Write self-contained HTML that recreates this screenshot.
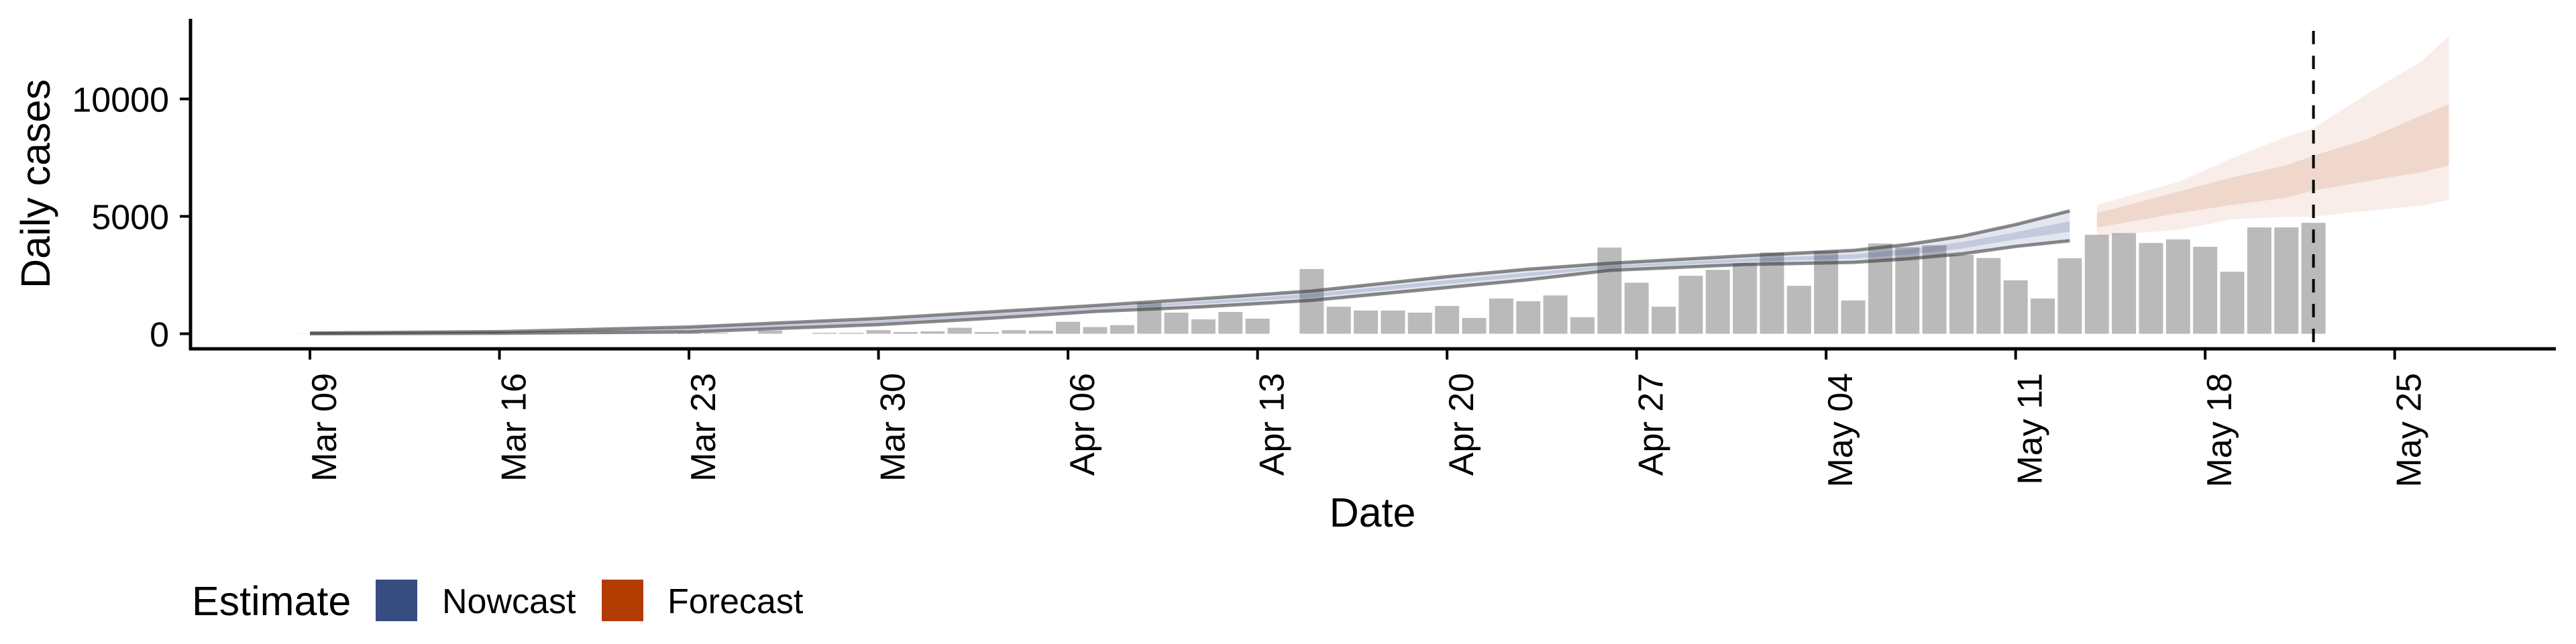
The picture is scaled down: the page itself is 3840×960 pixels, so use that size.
<!DOCTYPE html>
<html><head><meta charset="utf-8"><style>
html,body{margin:0;padding:0;background:#fff;}
svg{display:block;font-family:"Liberation Sans",sans-serif;}
</style></head><body>
<svg id="chart" width="3840" height="960" viewBox="0 0 3840 960" xmlns="http://www.w3.org/2000/svg">
<rect x="0" y="0" width="3840" height="960" fill="#fff"/>
<g id="bars"></g>
<g id="nowcast"></g>
<g id="forecast"></g>
<g id="axes"></g>
<text x="0" y="0" transform="translate(74,274) rotate(-90)" text-anchor="middle" font-size="61">Daily cases</text>
<text x="2046" y="785" text-anchor="middle" font-size="61">Date</text>
<g>
<text x="286" y="917" font-size="61">Estimate</text>
<rect x="560" y="864" width="62" height="62" fill="#374c80"/>
<text x="659" y="914" font-size="52">Nowcast</text>
<rect x="897" y="864" width="62" height="62" fill="#b33c02"/>
<text x="995" y="914" font-size="52">Forecast</text>
</g>
</svg>
<script>
// ---- data ----
const barDays = [0,1,2,3,4,5,6,7,8,9,10,11,12,13,14,15,16,17,18,19,20,21,22,23,24,25,26,27,28,29,30,31,32,33,34,35,36,37,38,39,40,41,42,43,44,45,46,47,48,49,50,51,52,53,54,55,56,57,58,59,60,61,62,63,64,65,66,67,68,69,70,71,72,73,74];
const barCases = [5,5,5,5,5,5,5,10,12,15,15,20,20,25,30,30,0,134,0,40,40,153,71,102,255,71,153,133,510,286,367,1326,898,612,928,643,0,2755,1152,989,989,898,1183,673,1500,1387,1632,704,3672,2173,1152,2468,2723,3009,3458,2040,3519,1418,3845,3682,3764,3356,3223,2275,1500,3213,4213,4284,3866,4019,3703,2642,4529,4529,4723];
const nowDays = [0,7,14,21,25,29,33,37,42,45,48,53,57,59,61,63,65];
const nowUpper90 = [30,90,285,650,920,1200,1500,1820,2430,2750,3000,3320,3550,3800,4150,4650,5230];
const nowLower90 = [0,20,80,390,650,950,1150,1420,1970,2300,2700,2950,3040,3190,3400,3720,3960];
const nowUpper50 = [20,65,210,560,830,1110,1390,1700,2280,2600,2900,3200,3380,3600,3900,4320,4800];
const nowLower50 = [8,40,150,470,740,1030,1270,1550,2120,2450,2800,3060,3200,3380,3620,4020,4350];
const foreDays = [66,69,71,73,74,76,78,79];
const foreUpper90 = [5488,6457,7477,8395,8752,10231,11608,12679];
const foreLower90 = [4162,4417,4876,4978,4990,5233,5457,5692];
const foreUpper50 = [5131,6049,6661,7171,7579,8300,9300,9772];
const foreLower50 = [4519,5131,5488,5794,6100,6500,6885,7171];
const xTickDays = [0,7,14,21,28,35,42,49,56,63,70,77];
const xTickLabels = ["Mar 09","Mar 16","Mar 23","Mar 30","Apr 06","Apr 13","Apr 20","Apr 27","May 04","May 11","May 18","May 25"];
const yTickValues = [0,5000,10000];
const yTickLabels = ["0","5000","10000"];
const dataDay = [74];

// ---- scales ----
const X0 = 462, DX = 40.36, Y0 = 497.5, KY = 0.035;
function xs(d){ return X0 + d*DX; }
function ys(v){ return Y0 - v*KY; }
const NS = "http://www.w3.org/2000/svg";
function mk(tag, parent, attrs){
  const e = document.createElementNS(NS, tag);
  for (const k in attrs) e.setAttribute(k, attrs[k]);
  parent.appendChild(e); return e;
}
function bandPath(days, up, lo){
  let d = "";
  days.forEach((t,i)=>{ d += (i?"L":"M") + xs(t).toFixed(1) + "," + ys(up[i]).toFixed(1); });
  for (let i = days.length-1; i >= 0; i--) d += "L" + xs(days[i]).toFixed(1) + "," + ys(lo[i]).toFixed(1);
  return d + "Z";
}
function linePath(days, vals){
  return days.map((t,i)=>(i?"L":"M") + xs(t).toFixed(1) + "," + ys(vals[i]).toFixed(1)).join("");
}

// bars
const gb = document.getElementById("bars");
barDays.forEach((d,i)=>{
  const v = barCases[i]; if (v <= 0) return;
  const r = mk("rect", gb, {x: xs(d)-18, y: ys(v), width: 36, height: ys(0)-ys(v), fill: "#bababa"});
  
  
});

// nowcast
const gn = document.getElementById("nowcast");
let p = mk("path", gn, {d: bandPath(nowDays, nowUpper90, nowLower90), fill: "rgba(58,78,140,0.14)"});


p = mk("path", gn, {d: bandPath(nowDays, nowUpper50, nowLower50), fill: "rgba(58,78,140,0.18)"});


p = mk("path", gn, {d: linePath(nowDays, nowUpper90), fill: "none", stroke: "rgba(60,60,60,0.6)", "stroke-width": 5});


p = mk("path", gn, {d: linePath(nowDays, nowLower90), fill: "none", stroke: "rgba(60,60,60,0.6)", "stroke-width": 5});



// forecast
const gf = document.getElementById("forecast");
p = mk("path", gf, {d: bandPath(foreDays, foreUpper90, foreLower90), fill: "rgba(179,60,2,0.09)"});


p = mk("path", gf, {d: bandPath(foreDays, foreUpper50, foreLower50), fill: "rgba(179,60,2,0.12)"});



// axes
const ga = document.getElementById("axes");
let l = mk("line", ga, {x1: xs(dataDay[0]), y1: 46, x2: xs(dataDay[0]), y2: 520, stroke: "#000", "stroke-width": 4, "stroke-dasharray": "20,17"});


l = mk("line", ga, {x1: 284, y1: 28, x2: 284, y2: 522, stroke: "#000", "stroke-width": 5});


l = mk("line", ga, {x1: 282, y1: 520, x2: 3810, y2: 520, stroke: "#000", "stroke-width": 5});


xTickDays.forEach((d,i)=>{
  const x = xs(d);
  const t = mk("line", ga, {x1: x, y1: 520, x2: x, y2: 536, stroke: "#000", "stroke-width": 4});
  
  
  const tx = mk("text", ga, {x: 0, y: 0, transform: "translate(" + (x+39) + ",556) rotate(-90)", "text-anchor": "end", "font-size": 52});
  tx.textContent = xTickLabels[i];
  
  
});
yTickValues.forEach((v,i)=>{
  const y = ys(v);
  const t = mk("line", ga, {x1: 268, y1: y, x2: 284, y2: y, stroke: "#000", "stroke-width": 4});
  
  
  const tx = mk("text", ga, {x: 252, y: y+19, "text-anchor": "end", "font-size": 52});
  tx.textContent = yTickLabels[i];
  
  
});
</script>
</body></html>
